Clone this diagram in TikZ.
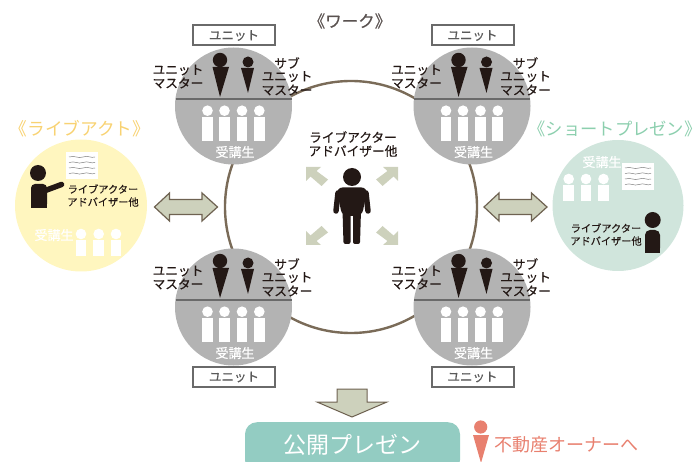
\documentclass[tikz,border=0pt]{standalone}
\usepackage{fontspec}
\setmainfont{Noto Sans CJK JP}
\newfontfamily\medf[FakeBold=0.35]{Noto Sans CJK JP}
\newfontfamily\boldf[FakeBold=0.6]{Noto Sans CJK JP}
\definecolor{ink}{HTML}{231815}
\definecolor{unitgray}{HTML}{B3B3B3}
\definecolor{linegray}{HTML}{6A6A6A}
\definecolor{ringc}{HTML}{7A6B58}
\definecolor{arrowf}{HTML}{CDD1BC}
\definecolor{arrowd}{HTML}{6E6251}
\definecolor{yellowc}{HTML}{FFF6BF}
\definecolor{yellowt}{HTML}{F8D272}
\definecolor{greenc}{HTML}{D0E5DC}
\definecolor{greent}{HTML}{8CCFAE}
\definecolor{tealc}{HTML}{93CCC2}
\definecolor{pinkc}{HTML}{E8806F}
\tikzset{
  x=1pt,y=-1pt,
  txt/.style={inner sep=0pt,text=#1},
  txt/.default=ink,
  lab/.style={txt,font=\medf\fontsize{12.7}{14}\selectfont},
  small/.style={txt,font=\medf\fontsize{10.2}{12}\selectfont},
  mid/.style={txt,font=\medf\fontsize{12.7}{14}\selectfont},
  stud/.style={txt=white,font=\medf\fontsize{13}{14}\selectfont},
  titleL/.style={txt=yellowt,font=\fontsize{17.7}{20}\selectfont},
  titleR/.style={txt=greent,font=\fontsize{17.3}{20}\selectfont},
  unitbox/.style={draw=linegray,line width=2pt,fill=white,minimum width=82pt,minimum height=20pt,inner sep=0pt,text=linegray!85!black,font=\boldf\fontsize{12.5}{14}\selectfont},
  bigarrow/.style={fill=arrowf,draw=arrowd,line width=1.2pt,line join=miter},
}
\newcommand{\studentfig}[3]{% x y(head) bottom
  \fill[white] (#1,#2) circle (5.3);
  \fill[white] (#1-5.4,#2+6.5) rectangle (#1+5.4,#3);}
\newcommand{\unitgroup}[3]{% name cx cy
  \begin{scope}[shift={(#2,#3)}]
    \node[circle,fill=unitgray,minimum size=117pt,inner sep=0pt] (#1c) at (0,0) {};
    \draw[linegray,line width=1.5pt] (-58,-7) -- (58,-7);
    \fill[ink] (-13.5,-46) circle (7.2);
    \fill[ink] (-21,-39) -- (-4.5,-39) -- (-13.5,-9) -- cycle;
    \fill[ink] (14.5,-44) circle (5.5);
    \fill[ink] (7.5,-38) -- (20.5,-38) -- (14.5,-13) -- cycle;
    \studentfig{-26}{4.7}{35}
    \studentfig{-9}{4.7}{35}
    \studentfig{8.5}{4.7}{35}
    \studentfig{25.8}{4.7}{35}
    \node[stud] (#1s) at (1.5,46) {受講生};
    \node[lab] (#1a) at (-55.5,-36) {ユニット};
    \node[lab] (#1b) at (-55.5,-23) {マスター};
    \node[lab] (#1d) at (53.5,-43) {サブ};
    \node[lab] (#1e) at (53.5,-29.5) {ユニット};
    \node[lab] (#1f) at (53.5,-16) {マスター};
  \end{scope}}
\newcommand{\paperfig}[2]{% left top
  \begin{scope}[shift={(#1,#2)}]
    \fill[white] (0,0) rectangle (32,27);
    \foreach \yy in {5,10.5,16,21.5}
      \draw[gray,line width=.5pt] (3,\yy) .. controls (9,\yy-2) and (12,\yy+2) .. (17,\yy) .. controls (22,\yy-2) and (25,\yy+1.5) .. (29,\yy);
  \end{scope}}
\newcommand{\doublearrow}[1]{% left x
  \begin{scope}[shift={(#1,207)}]
    \draw[bigarrow] (0,0) -- (15,-14) -- (15,-7.5) -- (47.5,-7.5) -- (47.5,-14) -- (63,0) -- (47.5,14) -- (47.5,7.5) -- (15,7.5) -- (15,14) -- cycle;
  \end{scope}}
\newcommand{\cornerarrow}[4]{% tipx tipy sx sy
  \begin{scope}[shift={(#1,#2)},xscale=#3,yscale=#4]
    \fill[arrowf] (0,0) -- (15,0) -- (10.5,4) -- (22,12.5) -- (15.5,19) -- (4.5,9.5) -- (0,14) -- cycle;
  \end{scope}}
\begin{document}
\begin{tikzpicture}
\useasboundingbox (0,0) rectangle (696,462);
\clip (0,0) rectangle (696,462);
% ring
\node[circle,draw=ringc,line width=2.4pt,minimum size=252pt,inner sep=0pt] (ring) at (351,207) {};
% units
\unitgroup{ua}{233.5}{106}
\unitgroup{ub}{472}{106}
\unitgroup{uc}{233.5}{307}
\unitgroup{ud}{472}{307}
\node[unitbox] (boxa) at (234,35.5) {ユニット};
\node[unitbox] (boxb) at (472.5,35.5) {ユニット};
\node[unitbox] (boxc) at (234,377) {ユニット};
\node[unitbox] (boxd) at (472.5,377) {ユニット};
\node[txt=ink!75,font=\medf\fontsize{16.5}{18}\selectfont] (work) at (350,21) {《ワーク》};
% centre
\node[mid] (ca) at (353,137) {ライブアクター};
\node[mid] (cb) at (353,151) {アドバイザー他};
\fill[ink] (352,177) circle (9);
\fill[ink,rounded corners=6pt] (336.5,187.5) -- (367.5,187.5) -- (362,216) -- (342,216) -- cycle;
\draw[ink,line width=5.5pt,line cap=round] (338,193) -- (336,211);
\draw[ink,line width=5.5pt,line cap=round] (366,193) -- (368,211);
\fill[ink,rounded corners=2pt] (342.5,210) -- (350.5,210) -- (350.5,244) -- (343.5,244) -- cycle;
\fill[ink,rounded corners=2pt] (353,210) -- (361,210) -- (360,244) -- (353,244) -- cycle;
\cornerarrow{306}{167}{1}{1}
\cornerarrow{398}{167}{-1}{1}
\cornerarrow{306}{245}{1}{-1}
\cornerarrow{398}{245}{-1}{-1}
% live act
\node[titleL] (lt) at (80,129) {《ライブアクト》};
\node[circle,fill=yellowc,minimum size=132pt,inner sep=0pt] (lc) at (81,205.5) {};
\paperfig{66}{152}
\fill[ink] (38,173) circle (8);
\fill[ink,rounded corners=4pt] (31,208) -- (31,184) -- (47,184) -- (47,208) -- cycle;
\fill[ink] (31,200) rectangle (47,208);
\draw[ink,line width=5.5pt,line cap=round] (44,191) -- (61.5,184.5);
\node[small] (la) at (103,189) {ライブアクター};
\node[small] (lb) at (103,202) {アドバイザー他};
\node[stud] (ls) at (54,235) {受講生};
\studentfig{81}{234}{256}
\studentfig{98.7}{234}{256}
\studentfig{116}{234}{256}
\doublearrow{154.5}
% short
\node[titleR] (st) at (615,129) {《ショートプレゼン》};
\node[circle,fill=greenc,minimum size=131pt,inner sep=0pt] (sc) at (618,205.5) {};
\paperfig{622}{163}
\node[stud] (ss) at (602,162) {受講生};
\studentfig{568.7}{179}{201}
\studentfig{586}{179}{201}
\studentfig{603.5}{179}{201}
\fill[ink] (652.7,220) circle (8);
\fill[ink,rounded corners=5pt] (645,253) -- (645,230) -- (660,230) -- (660,253) -- cycle;
\fill[ink] (645,245) rectangle (660,253);
\node[small] (sa) at (606,228) {ライブアクター};
\node[small] (sb) at (606,241) {アドバイザー他};
\doublearrow{484}
% bottom
\draw[bigarrow,line width=1pt] (337,389) -- (367,389) -- (367,402) -- (387,402) -- (352,417) -- (317,402) -- (337,402) -- cycle;
\node[fill=tealc,rounded corners=12pt,minimum width=215pt,minimum height=50pt,inner sep=0pt,anchor=north] (pill) at (352.5,422) {};
\node[txt=white,font=\fontsize{23}{26}\selectfont] (pt) at (352,445) {公開プレゼン};
\fill[pinkc] (480.7,427) circle (6.6);
\fill[pinkc] (473,435) -- (489,435) -- (481,463) -- cycle;
\node[txt=pinkc,font=\fontsize{18}{20}\selectfont] (owner) at (566,445) {不動産オーナーへ};
\end{tikzpicture}
\end{document}
